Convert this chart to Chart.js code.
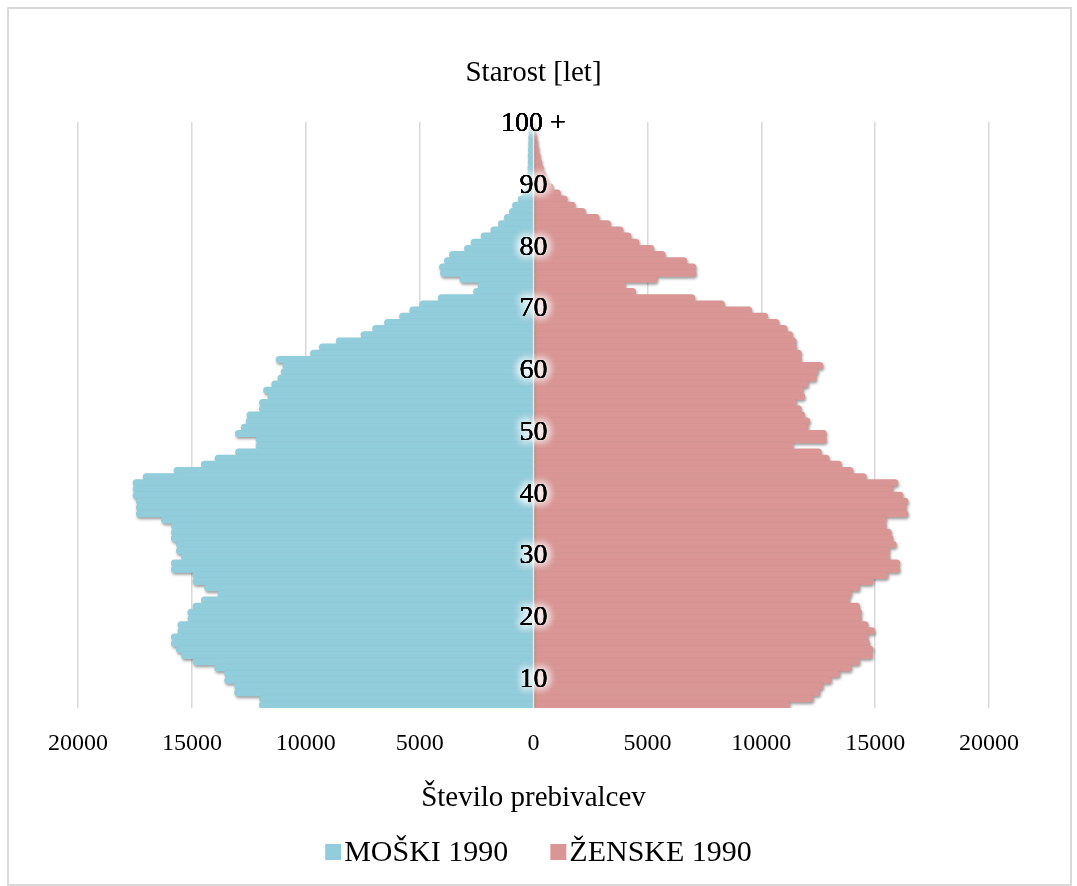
<!DOCTYPE html>
<html>
<head>
<meta charset="utf-8">
<title>Starostna piramida 1990</title>
<script src="https://cdn.jsdelivr.net/npm/chart.js@4.4.1/dist/chart.umd.min.js"></script>
<style>
  html, body { margin: 0; padding: 0; background: #fff; }
  #wrap { position: relative; width: 1077px; height: 886px; }
  #frame { position: absolute; left: 7px; top: 7px; width: 1061px; height: 875px; border: 2px solid #d9d9d9; pointer-events: none; }
  canvas { position: absolute; left: 0; top: 0; }
</style>
</head>
<body>
<div id="wrap">
  <div id="frame"></div>
  <canvas id="pyramid" width="1077" height="886"></canvas>
</div>
<script>
// starost od najstarejših (100 +) do 6 let, da se palice rišejo od zgoraj navzdol
const ages = Array.from({ length: 95 }, (_, i) => 100 - i);

const moski1990 = [
  230, 220, 230, 230, 240, 250, 250, 260, 270, 290,
  320, 480, 690, 940, 1080, 1300, 1560, 1890, 2320, 2760,
  3050, 3710, 3930, 4150, 4100, 3250, 2450, 2650, 4200, 5000,
  5450, 5900, 6560, 7080, 7590, 8680, 9420, 9810, 11320, 11020,
  11100, 11240, 11510, 11870, 11680, 12050, 12050, 12600, 12630, 12850,
  13110, 12200, 12200, 13100, 14000, 14600, 15800, 17160, 17600, 17600,
  17600, 17460, 17460, 17460, 16360, 15920, 15920, 15920, 15700, 15700,
  15480, 15920, 15920, 14970, 14970, 14460, 13870, 14600, 14970, 15190,
  15190, 15630, 15630, 15920, 15920, 15700, 15480, 14970, 14020, 13580,
  13580, 13140, 13140, 12050, 12050
];

const zenske1990 = [
  100, 130, 160, 200, 250, 310, 380, 460, 560, 680,
  880, 1200, 1500, 1850, 2300, 2900, 3400, 3950, 4300, 4650,
  5300, 5800, 6750, 7150, 7150, 5450, 4050, 4500, 7100, 8400,
  9600, 10300, 10800, 11150, 11400, 11550, 11560, 11780, 11780, 12730,
  12510, 12440, 12080, 11860, 11930, 11560, 11780, 11930, 12150, 12080,
  12880, 12880, 11420, 12660, 13000, 13540, 14050, 14630, 16020, 15800,
  16240, 16460, 16390, 16460, 15510, 15510, 15730, 15800, 15950, 15660,
  15660, 16100, 16100, 15580, 14930, 14340, 13980, 13900, 14340, 14420,
  14420, 14710, 15000, 14710, 14780, 14930, 14900, 14340, 13980, 13470,
  13100, 12730, 12590, 12300, 11270
];

const ageTicks = [100, 90, 80, 70, 60, 50, 40, 30, 20, 10];
const ageTickText = ['100 +', '90', '80', '70', '60', '50', '40', '30', '20', '10'];

const FONT = 'Liberation Serif';
const BLUE = '#92cddc';
const PINK = '#d99694';

// senca pod palicami (kot v Excelu)
const barShadow = {
  id: 'barShadow',
  beforeDatasetsDraw(chart) {
    const c = chart.ctx;
    c.save();
    c.shadowColor = 'rgba(0, 0, 0, 0.38)';
    c.shadowBlur = 3;
    c.shadowOffsetX = 1;
    c.shadowOffsetY = 2;
  },
  afterDatasetsDraw(chart) {
    chart.ctx.restore();
  }
};

// oznake starosti na sredini, z belim sijem
const ageLabels = {
  id: 'ageLabels',
  afterDatasetsDraw(chart) {
    const { ctx, chartArea, scales } = chart;
    const cx = scales.x.getPixelForValue(0);
    ctx.save();
    ctx.strokeStyle = '#e4eaec';
    ctx.lineWidth = 1.5;
    ctx.beginPath();
    ctx.moveTo(cx, chartArea.top);
    ctx.lineTo(cx, chartArea.bottom);
    ctx.stroke();

    ctx.font = '28px "' + FONT + '"';
    ctx.textAlign = 'center';
    ctx.textBaseline = 'middle';
    ctx.fillStyle = '#000';
    ageTicks.forEach((age, k) => {
      const py = scales.y.getPixelForValue(ages.indexOf(age)) - 1;
      ctx.shadowColor = '#fff';
      ctx.shadowBlur = 10;
      for (let n = 0; n < 5; n++) ctx.fillText(ageTickText[k], cx, py);
      ctx.shadowBlur = 0;
      ctx.fillText(ageTickText[k], cx, py);
    });
    ctx.restore();
  }
};

// legenda spodaj: kvadratek tik ob besedilu
const bottomLegend = {
  id: 'bottomLegend',
  afterDraw(chart) {
    const { ctx } = chart;
    const sets = chart.data.datasets;
    const box = 16, gap = 3, between = 42, y = 852;
    ctx.save();
    ctx.font = '30px "' + FONT + '"';
    ctx.textBaseline = 'middle';
    ctx.textAlign = 'left';
    const widths = sets.map(d => ctx.measureText(d.label).width);
    const total = widths.reduce((s, w) => s + box + gap + w, 0) + between * (sets.length - 1);
    let x = chart.width / 2 - total / 2;
    sets.forEach((d, i) => {
      ctx.fillStyle = d.backgroundColor;
      ctx.fillRect(x, y - box / 2, box, box);
      ctx.fillStyle = '#000';
      ctx.fillText(d.label, x + box + gap, y + 1);
      x += box + gap + widths[i] + between;
    });
    ctx.restore();
  }
};

new Chart(document.getElementById('pyramid'), {
  type: 'bar',
  data: {
    labels: ages,
    datasets: [{
      label: 'MOŠKI 1990',
      data: moski1990.map(v => -v),
      backgroundColor: BLUE,
      borderRadius: 10,
      borderSkipped: 'start',
      barPercentage: 1.15,
      categoryPercentage: 1
    }, {
      label: 'ŽENSKE 1990',
      data: zenske1990,
      backgroundColor: PINK,
      borderRadius: 10,
      borderSkipped: 'start',
      barPercentage: 1.15,
      categoryPercentage: 1
    }]
  },
  options: {
    responsive: false,
    animation: false,
    indexAxis: 'y',
    layout: { padding: { left: 78, right: 88, top: 0, bottom: 59 } },
    plugins: {
      title: {
        display: true,
        text: 'Starost [let]',
        color: '#000',
        font: { family: FONT, size: 29, weight: 'normal' },
        padding: { top: 55.6, bottom: 31.6 }
      },
      legend: { display: false },
      tooltip: { enabled: false }
    },
    scales: {
      x: {
        stacked: true,
        min: -20000,
        max: 20000,
        ticks: {
          stepSize: 5000,
          callback: v => Math.abs(v),
          color: '#000',
          font: { family: FONT, size: 24 },
          padding: 21
        },
        grid: { color: '#d9d9d9', lineWidth: 1.5, drawTicks: false },
        border: { display: false },
        title: {
          display: true,
          text: 'Število prebivalcev',
          color: '#000',
          font: { family: FONT, size: 29 },
          padding: { top: 1.8, bottom: 11.6 }
        }
      },
      y: {
        stacked: true,
        display: false
      }
    }
  },
  plugins: [barShadow, ageLabels, bottomLegend]
});
</script>
</body>
</html>
